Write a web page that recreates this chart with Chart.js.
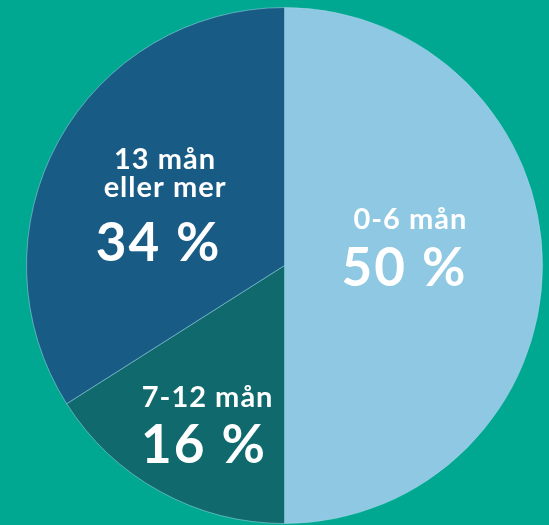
<!DOCTYPE html>
<html>
<head>
<meta charset="utf-8">
<script src="https://cdn.jsdelivr.net/npm/chart.js@4/dist/chart.umd.min.js"></script>
<style>
  html, body { margin: 0; padding: 0; background: #00A891; }
  #wrap { width: 549px; height: 525px; }
</style>
</head>
<body>
<div id="wrap"><canvas id="pieChart"></canvas></div>
<script>
const categories = ['0-6 mån', '7-12 mån', ['13 mån', 'eller mer']];
const shares = [50, 16, 34];
const sliceColors = ['#8EC8E3', '#106A6D', '#185C86'];

// where each label block sits, as fractions of the radius from the centre
const labelSpots = [
    { nameX: 0.488, nameY: [-0.141], valueX: 0.465, valueY: 0.079 },
    { nameX: -0.298, nameY: [0.548], valueX: -0.312, valueY: 0.766 },
    { nameX: -0.463, nameY: [-0.373, -0.266], valueX: -0.488, valueY: -0.017 }
];

const sliceLabels = {
    id: 'sliceLabels',
    afterDatasetsDraw(chart) {
        const ctx = chart.ctx;
        const arc = chart.getDatasetMeta(0).data[0];
        const cx = arc.x, cy = arc.y, r = arc.outerRadius;
        ctx.save();
        ctx.fillStyle = '#ffffff';
        ctx.textAlign = 'center';
        ctx.textBaseline = 'alphabetic';
        categories.forEach(function (cat, i) {
            const spot = labelSpots[i];
            const lines = Array.isArray(cat) ? cat : [cat];
            ctx.font = 'bold 29px Lato';
            ctx.letterSpacing = '1px';
            lines.forEach(function (line, j) {
                ctx.fillText(line, cx + spot.nameX * r, cy + spot.nameY[j] * r);
            });
            ctx.font = 'bold 53px Lato';
            ctx.letterSpacing = '2px';
            ctx.fillText(shares[i] + ' %', cx + spot.valueX * r, cy + spot.valueY * r);
        });
        ctx.restore();
    }
};

new Chart(document.getElementById('pieChart'), {
    type: 'pie',
    data: {
        labels: categories,
        datasets: [{
            data: shares,
            backgroundColor: sliceColors,
            borderColor: 'rgba(170, 215, 235, 0.5)',
            borderWidth: 1
        }]
    },
    options: {
        responsive: true,
        maintainAspectRatio: false,
        animation: false,
        layout: {
            padding: { left: 26, right: 6, top: 7, bottom: 1 }
        },
        plugins: {
            legend: { display: false },
            tooltip: { enabled: false }
        }
    },
    plugins: [sliceLabels]
});
</script>
</body>
</html>
